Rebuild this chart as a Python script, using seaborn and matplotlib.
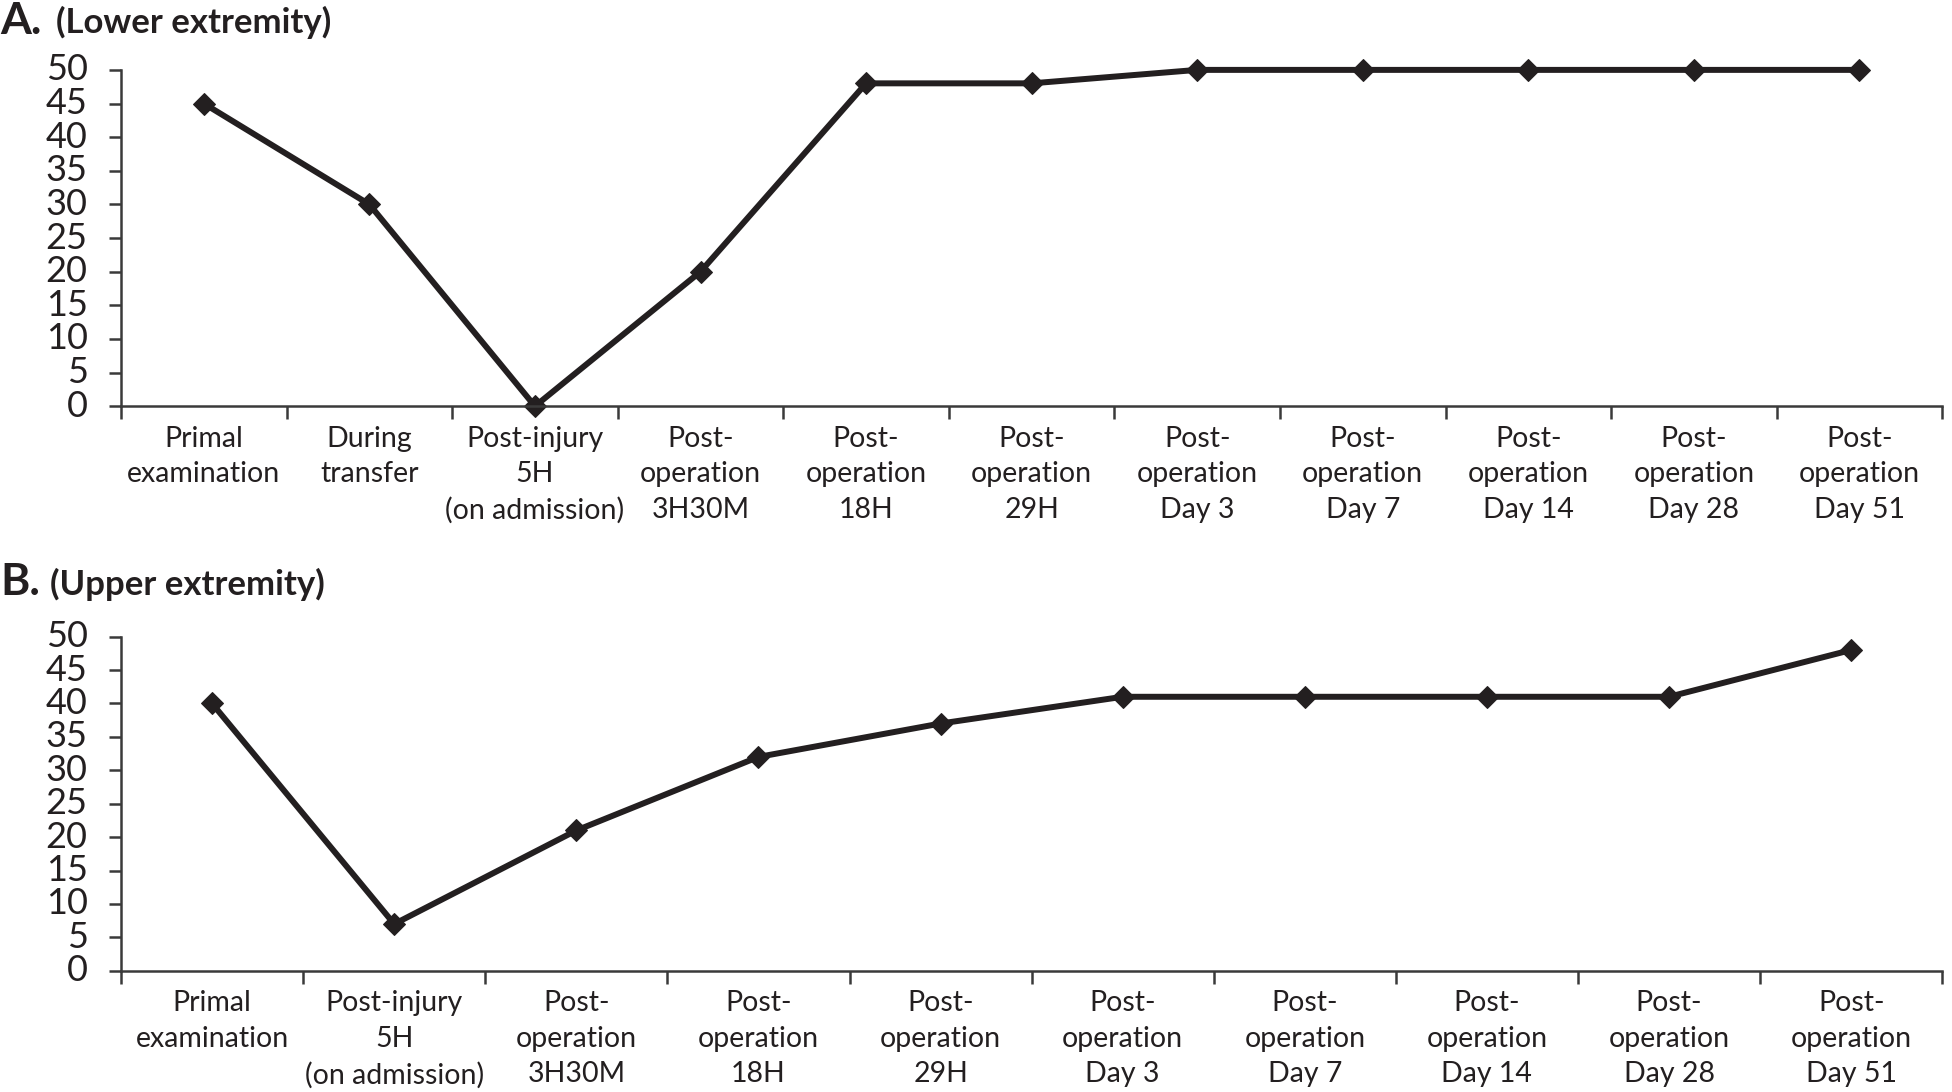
import matplotlib
matplotlib.use("Agg")
import matplotlib.pyplot as plt
import matplotlib.ticker as mticker
import seaborn as sns
import pandas as pd
import numpy as np

# ------------------------------------------------------------------
# DATA
# ------------------------------------------------------------------
lower_labels = ["Primal\nexamination", "During\ntransfer",
                "Post-injury\n5H\n(on admission)", "Post-\noperation\n3H30M",
                "Post-\noperation\n18H", "Post-\noperation\n29H",
                "Post-\noperation\nDay 3", "Post-\noperation\nDay 7",
                "Post-\noperation\nDay 14", "Post-\noperation\nDay 28",
                "Post-\noperation\nDay 51"]
lower_values = [45, 30, 0, 20, 48, 48, 50, 50, 50, 50, 50]

upper_labels = ["Primal\nexamination", "Post-injury\n5H\n(on admission)",
                "Post-\noperation\n3H30M", "Post-\noperation\n18H",
                "Post-\noperation\n29H", "Post-\noperation\nDay 3",
                "Post-\noperation\nDay 7", "Post-\noperation\nDay 14",
                "Post-\noperation\nDay 28", "Post-\noperation\nDay 51"]
upper_values = [40, 7, 21, 32, 37, 41, 41, 41, 41, 48]

y_ticks = [0, 5, 10, 15, 20, 25, 30, 35, 40, 45, 50]

# ------------------------------------------------------------------
# SETTINGS
# ------------------------------------------------------------------
sns.set_theme(style="ticks")
plt.rcParams["font.family"] = ["Lato", "DejaVu Sans"]
INK = "#231f20"
AXIS = "#3a3a3a"

fig = plt.figure(figsize=(19.52, 10.92), dpi=100)
ax_a = fig.add_axes([0.062, 0.628, 0.933, 0.308])
ax_b = fig.add_axes([0.062, 0.111, 0.933, 0.306])


def draw_panel(ax, labels, values):
    df = pd.DataFrame({"time": labels, "score": values})
    sns.lineplot(data=df, x="time", y="score", ax=ax, color=INK,
                 linewidth=4.3, marker="D", markersize=11,
                 markeredgecolor=INK, markerfacecolor=INK, sort=False)
    n = len(labels)
    ax.set_xlim(-0.5, n - 0.5)
    ax.set_ylim(0, 50)
    ax.set_yticks(y_ticks)
    ax.set_xticks(range(n))
    ax.set_xticklabels(labels, fontsize=20.5, color=INK, linespacing=1.45)
    ax.xaxis.set_minor_locator(mticker.FixedLocator(np.arange(-0.5, n, 1.0)))
    ax.tick_params(axis="x", which="major", bottom=True, length=0, pad=14)
    ax.tick_params(axis="x", which="minor", bottom=True, length=9, width=1.8,
                   color=AXIS, direction="out")
    ax.tick_params(axis="y", which="major", left=True, length=9, width=1.8,
                   color=AXIS, direction="out", labelsize=26,
                   labelcolor=INK, pad=15)
    ax.tick_params(axis="y", which="minor", left=False)
    ax.set_xlabel("")
    ax.set_ylabel("")
    for side in ["top", "right"]:
        ax.spines[side].set_visible(False)
    for side in ["left", "bottom"]:
        ax.spines[side].set_color(AXIS)
        ax.spines[side].set_linewidth(1.8)
    ax.grid(False)
    for t in ax.get_yticklabels():
        t.set_verticalalignment("center")
    for line in ax.get_lines():
        line.set_clip_on(False)


draw_panel(ax_a, lower_labels, lower_values)
draw_panel(ax_b, upper_labels, upper_values)

# panel titles
fig.text(0.0, 0.981, "A.", fontsize=32, fontweight="bold", color=INK,
         va="center", ha="left")
fig.text(0.0288, 0.979, "(Lower extremity)", fontsize=25, fontweight="bold",
         color=INK, va="center", ha="left")
fig.text(0.0, 0.467, "B.", fontsize=32, fontweight="bold", color=INK,
         va="center", ha="left")
fig.text(0.0256, 0.465, "(Upper extremity)", fontsize=25, fontweight="bold",
         color=INK, va="center", ha="left")

plt.savefig("out.png", dpi=100)
plt.close()
